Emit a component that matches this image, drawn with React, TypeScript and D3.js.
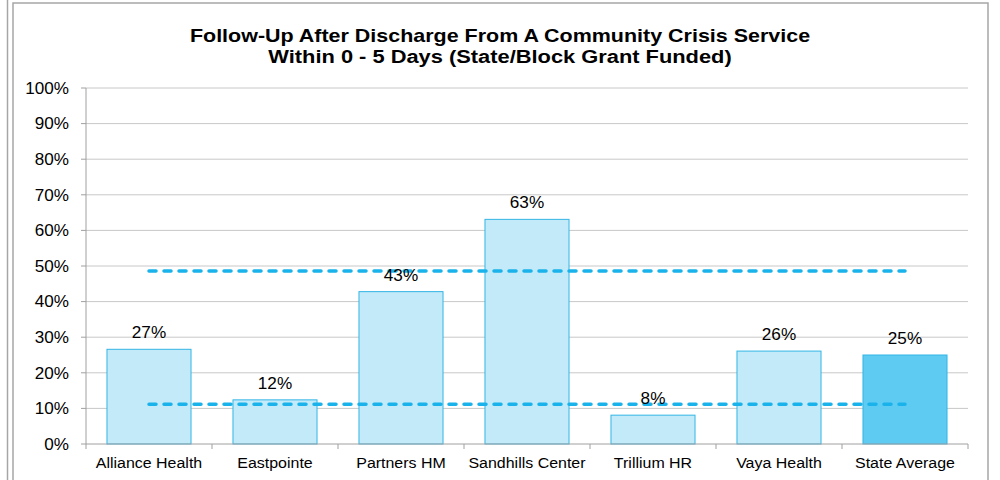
import React from "react";
import * as d3 from "d3";

const categories = ["Alliance Health", "Eastpointe", "Partners HM", "Sandhills Center", "Trillium HR", "Vaya Health", "State Average"];
const values = [26.6, 12.4, 42.8, 63.1, 8.1, 26.1, 25.0];
const valueLabels = ["27%", "12%", "43%", "63%", "8%", "26%", "25%"];
const upperBenchmark = [48.6, 48.6, 48.6, 48.6, 48.6, 48.6, 48.6];
const lowerBenchmark = [11.2, 11.2, 11.2, 11.2, 11.2, 11.2, 11.2];
const yTicks = [0, 10, 20, 30, 40, 50, 60, 70, 80, 90, 100];
const titleLines = ["Follow-Up After Discharge From A Community Crisis Service", "Within 0 - 5 Days (State/Block Grant Funded)"];

const W = 1000;
const H = 480;
const plot = { left: 86, right: 968, top: 88, bottom: 444 };
const font = "'Liberation Sans', Arial, sans-serif";

function T(props: { x: number; y: number; sx: number; size: number; anchor: string; bold?: boolean; dy?: string; children: React.ReactNode }) {
  return (
    <text
      transform={`translate(${props.x},${props.y}) scale(${props.sx},1)`}
      textAnchor={props.anchor}
      fontSize={props.size}
      fontWeight={props.bold ? "bold" : "normal"}
      dy={props.dy}
      fill="#000"
    >
      {props.children}
    </text>
  );
}

export default function App() {
  const x = d3.scaleBand<string>().domain(categories).range([plot.left, plot.right]).paddingInner(0.333).paddingOuter(0.1665);
  const xOuter = d3.scaleBand<string>().domain(categories).range([plot.left, plot.right]);
  const y = d3.scaleLinear().domain([0, 100]).range([plot.bottom, plot.top]);
  const line = d3
    .line<number>()
    .x((_, i) => (xOuter(categories[i]) as number) + xOuter.bandwidth() / 2)
    .y((d) => y(d));

  return (
    <svg width={W} height={H} style={{ position: "absolute", left: 0, top: 0, background: "#fff" }} fontFamily={font}>
      <rect x={0} y={0} width={W} height={H} fill="#fff" />
      <line x1={7.5} x2={7.5} y1={0} y2={H} stroke="#a6a6a6" strokeWidth={1.5} />
      <rect x={13} y={3} width={975} height={H + 20} fill="none" stroke="#a6a6a6" strokeWidth={1.5} />
      {titleLines.map((t, i) => (
        <T key={t} x={500} y={41.5 + i * 21} sx={i === 0 ? 1.13 : 1.15} size={19} anchor="middle" bold>
          {t}
        </T>
      ))}
      {yTicks.map((t) => (
        <g key={t}>
          {t > 0 && <line x1={plot.left} x2={plot.right} y1={y(t)} y2={y(t)} stroke="#c8c8c8" strokeWidth={1} />}
          <line x1={plot.left - 5} x2={plot.left} y1={y(t)} y2={y(t)} stroke="#a0a0a0" strokeWidth={1} />
          <T x={69} y={y(t)} sx={1.07} size={16} anchor="end" dy="0.36em">
            {t}%
          </T>
        </g>
      ))}
      <line x1={plot.left} x2={plot.left} y1={plot.top} y2={plot.bottom} stroke="#a0a0a0" strokeWidth={1} />
      {categories.map((c, i) => (
        <rect
          key={c}
          x={x(c)}
          y={y(values[i])}
          width={x.bandwidth()}
          height={plot.bottom - y(values[i])}
          fill={i === categories.length - 1 ? "#5ecbf2" : "#c2eaf9"}
          stroke="#33b5e5"
          strokeWidth={1}
        />
      ))}
      <line x1={plot.left} x2={plot.right} y1={plot.bottom} y2={plot.bottom} stroke="#a0a0a0" strokeWidth={1} />
      {d3.range(categories.length + 1).map((i) => {
        const px = plot.left + i * xOuter.step();
        return <line key={i} x1={px} x2={px} y1={plot.bottom} y2={plot.bottom + 5} stroke="#a0a0a0" strokeWidth={1} />;
      })}
      {categories.map((c) => (
        <T key={c} x={(xOuter(c) as number) + xOuter.bandwidth() / 2} y={467.5} sx={1.03} size={15.5} anchor="middle">
          {c}
        </T>
      ))}
      {[upperBenchmark, lowerBenchmark].map((s, k) => (
        <path key={k} d={line(s) || ""} fill="none" stroke="#1ab2ea" strokeWidth={3.5} strokeDasharray="7 8" strokeLinecap="round" />
      ))}
      {categories.map((c, i) => (
        <T key={c} x={(x(c) as number) + x.bandwidth() / 2} y={y(values[i]) - 11} sx={1.04} size={16.5} anchor="middle">
          {valueLabels[i]}
        </T>
      ))}
    </svg>
  );
}
